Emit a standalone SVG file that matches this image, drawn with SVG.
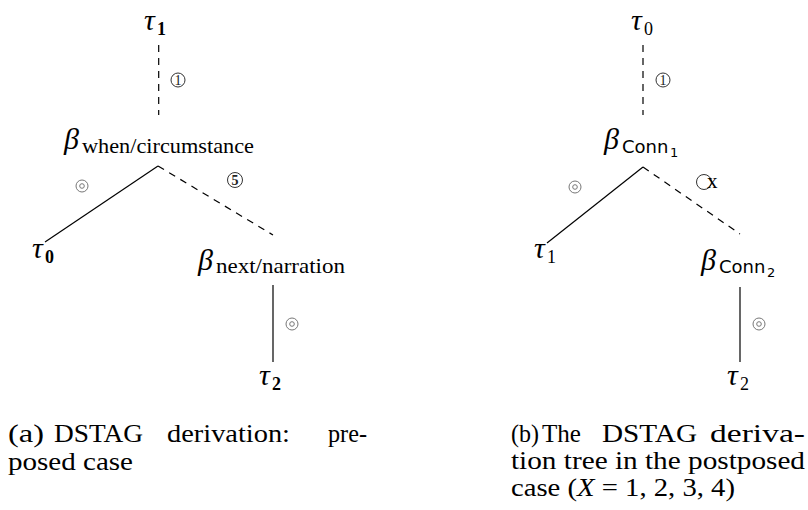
<svg xmlns="http://www.w3.org/2000/svg" width="808" height="510" viewBox="0 0 808 510">
<style>
.m{font-family:"Liberation Serif","DejaVu Serif",serif;font-style:italic;font-size:30px;fill:#000}
.s{font-family:"Liberation Serif","DejaVu Serif",serif;font-size:18px;font-weight:bold;fill:#000}
.sn{font-family:"Liberation Serif","DejaVu Serif",serif;font-size:18px;fill:#000}
.sl{font-family:"Liberation Serif","DejaVu Serif",serif;font-size:21px;fill:#000}
.ss{font-family:"DejaVu Sans","Liberation Sans",sans-serif;font-size:18px;fill:#000}
.ss2{font-family:"DejaVu Sans","Liberation Sans",sans-serif;font-size:13px;fill:#000}
.dg{font-family:"Liberation Serif","DejaVu Serif",serif;font-size:14px;text-anchor:middle;fill:#222}
.ring{fill:none;stroke:#333;stroke-width:1}
.gr{fill:none;stroke:#777;stroke-width:1}
.cap{font-family:"Liberation Serif","DejaVu Serif",serif;font-size:26px;fill:#000}
.e{stroke:#000;stroke-width:1.2;fill:none}
.d{stroke-dasharray:7 6}
</style>
<defs>
<g id="dotring"><circle class="gr" r="6"/><circle class="gr" r="2.3"/></g>
</defs>
<g id="connectors">
<line class="e d" x1="158.7" y1="45" x2="158.7" y2="115"/>
<line class="e" x1="158" y1="166" x2="45" y2="242"/>
<line class="e d" x1="158" y1="166" x2="273" y2="235"/>
<line class="e" x1="273" y1="285" x2="273" y2="362"/>
<line class="e d" x1="643" y1="45" x2="643" y2="115"/>
<line class="e" x1="643" y1="167" x2="547" y2="243"/>
<line class="e d" x1="643" y1="167" x2="740" y2="234"/>
<line class="e" x1="740" y1="287" x2="740" y2="362"/>
</g>
<g id="edge-labels">
<g id="lab-a1"><circle class="ring" cx="178" cy="80" r="7"/><text class="dg" x="178" y="85">1</text></g>
<use href="#dotring" x="82" y="186"/>
<g id="lab-a5"><circle class="ring" cx="235" cy="180" r="7.5" stroke-width="1.5"/><text class="dg" x="235" y="185" font-weight="bold">5</text></g>
<use href="#dotring" x="292" y="324"/>
<g id="lab-b1"><circle class="ring" cx="663" cy="80" r="7"/><text class="dg" x="663" y="85">1</text></g>
<use href="#dotring" x="575" y="187"/>
<g id="lab-bx"><circle class="ring" cx="704" cy="182" r="7.5"/><text class="sl" x="707" y="188">x</text></g>
<use href="#dotring" x="759" y="324"/>
</g>
<g id="a-tau1"><text class="m" x="144" y="30">τ</text><text class="s" x="157" y="35">1</text></g>
<g id="a-beta-when"><text class="m" x="64" y="149">β</text><text class="sl" x="82" y="153" textLength="172" lengthAdjust="spacingAndGlyphs">when/circumstance</text></g>
<g id="a-tau0"><text class="m" x="32" y="258">τ</text><text class="s" x="45" y="263">0</text></g>
<g id="a-beta-next"><text class="m" x="198" y="270">β</text><text class="sl" x="216" y="273" textLength="129" lengthAdjust="spacingAndGlyphs">next/narration</text></g>
<g id="a-tau2"><text class="m" x="259" y="385">τ</text><text class="s" x="272" y="390">2</text></g>
<g id="b-tau0"><text class="m" x="631" y="30">τ</text><text class="sn" x="644" y="35">0</text></g>
<g id="b-beta-conn1"><text class="m" x="604" y="149">β</text><text class="ss" x="622" y="153">Conn</text><text class="ss2" x="670" y="157">1</text></g>
<g id="b-tau1"><text class="m" x="534" y="258">τ</text><text class="sn" x="547" y="263">1</text></g>
<g id="b-beta-conn2"><text class="m" x="701" y="270">β</text><text class="ss" x="719" y="273">Conn</text><text class="ss2" x="767" y="277">2</text></g>
<g id="b-tau2"><text class="m" x="727" y="385">τ</text><text class="sn" x="740" y="390">2</text></g>
<g id="caption-a">
<text class="cap" x="8" y="442" textLength="36" lengthAdjust="spacingAndGlyphs">(a)</text>
<text class="cap" x="54" y="442" textLength="89" lengthAdjust="spacingAndGlyphs">DSTAG</text>
<text class="cap" x="167" y="442" textLength="123" lengthAdjust="spacingAndGlyphs">derivation:</text>
<text class="cap" x="328" y="442" textLength="39" lengthAdjust="spacingAndGlyphs">pre-</text>
<text class="cap" x="8" y="470" textLength="125" lengthAdjust="spacingAndGlyphs">posed case</text>
</g>
<g id="caption-b">
<text class="cap" x="511" y="442" textLength="28" lengthAdjust="spacingAndGlyphs">(b)</text>
<text class="cap" x="542" y="442" textLength="39" lengthAdjust="spacingAndGlyphs">The</text>
<text class="cap" x="602" y="442" textLength="95" lengthAdjust="spacingAndGlyphs">DSTAG</text>
<text class="cap" x="710" y="442" textLength="95" lengthAdjust="spacingAndGlyphs">deriva-</text>
<text class="cap" x="511" y="469" textLength="294" lengthAdjust="spacingAndGlyphs">tion tree in the postposed</text>
<text class="cap" x="511" y="496" textLength="224" lengthAdjust="spacingAndGlyphs">case (<tspan font-style="italic">X</tspan> = 1, 2, 3, 4)</text>
</g>
</svg>
